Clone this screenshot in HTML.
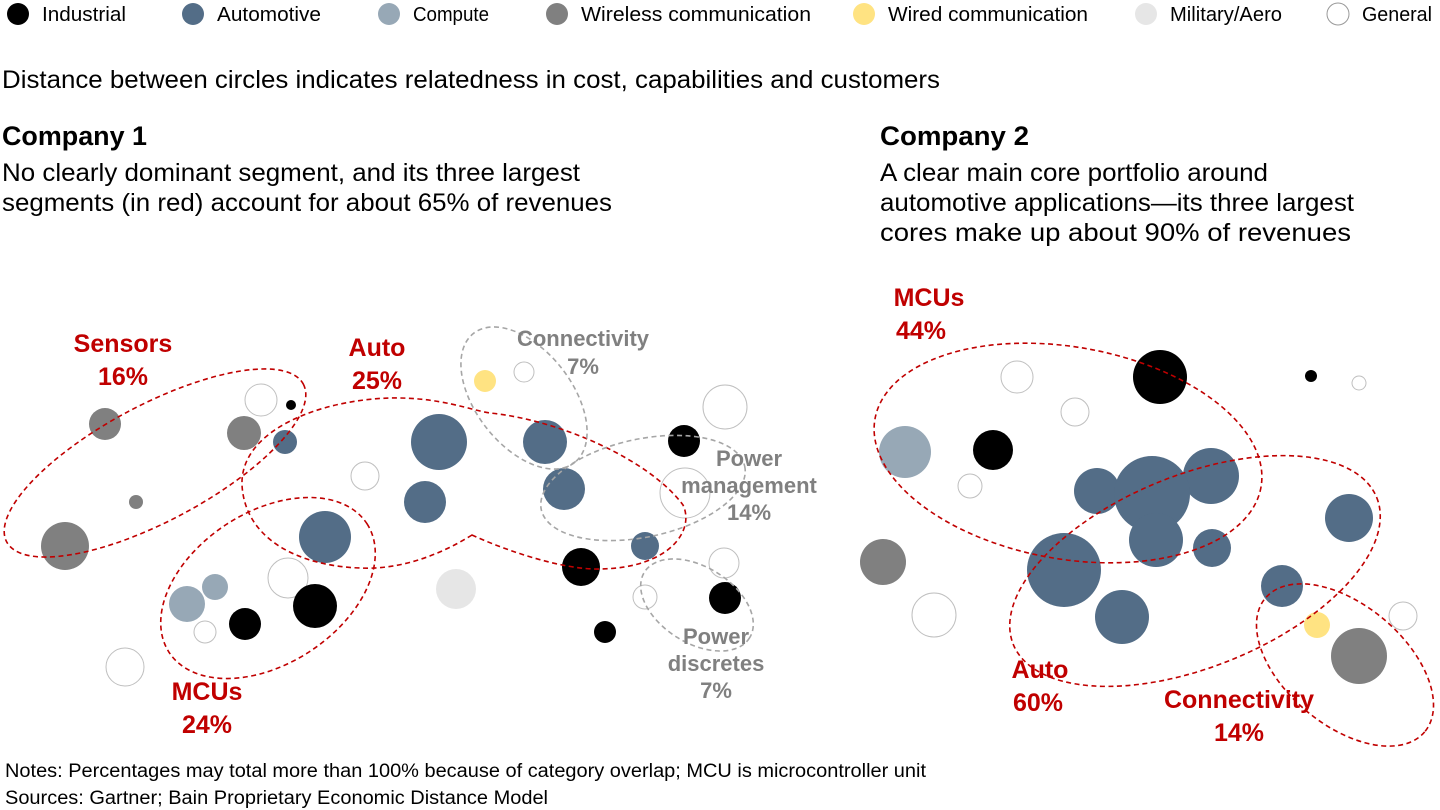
<!DOCTYPE html>
<html><head><meta charset="utf-8"><style>
body{margin:0;background:#fff;font-family:"Liberation Sans",Arial,sans-serif}
svg{display:block}
</style></head><body>
<svg id="chart" width="1440" height="810" viewBox="0 0 1440 810" xmlns="http://www.w3.org/2000/svg" font-family="Liberation Sans, Arial, sans-serif">
<g id="legend"></g>
<text x="2" y="88" font-size="25" textLength="938" lengthAdjust="spacingAndGlyphs" fill="#000">Distance between circles indicates relatedness in cost, capabilities and customers</text>
<text x="2" y="145" font-size="27" font-weight="bold" textLength="145" lengthAdjust="spacingAndGlyphs">Company 1</text>
<text x="2" y="181" font-size="25" textLength="578" lengthAdjust="spacingAndGlyphs">No clearly dominant segment, and its three largest</text>
<text x="2" y="211" font-size="25" textLength="610" lengthAdjust="spacingAndGlyphs">segments (in red) account for about 65% of revenues</text>
<text x="880" y="145" font-size="27" font-weight="bold" textLength="149" lengthAdjust="spacingAndGlyphs">Company 2</text>
<text x="880" y="181" font-size="25" textLength="388" lengthAdjust="spacingAndGlyphs">A clear main core portfolio around</text>
<text x="880" y="211" font-size="25" textLength="474" lengthAdjust="spacingAndGlyphs">automotive applications—its three largest</text>
<text x="880" y="241" font-size="25" textLength="471" lengthAdjust="spacingAndGlyphs">cores make up about 90% of revenues</text>
<g id="circles"></g>
<g fill="none" stroke-width="1.6" stroke-dasharray="5,3.5">
<ellipse cx="155" cy="463" rx="168" ry="58" transform="rotate(-28 155 463)" stroke="#c00000"/>
<ellipse cx="268" cy="588" rx="118" ry="76" transform="rotate(-33 268 588)" stroke="#c00000"/>
<path d="M472,535 C440,555 400,570 360,568 C300,566 245,540 242,485 C240,430 320,400 390,398 C440,397 470,410 490,413 C560,420 650,460 683,505 C695,530 670,568 600,569 C560,570 500,548 472,535 Z" stroke="#c00000"/>
<ellipse cx="524" cy="398" rx="82" ry="48" transform="rotate(52 524 398)" stroke="#a6a6a6"/>
<ellipse cx="643" cy="488" rx="104" ry="49" transform="rotate(-12 643 488)" stroke="#a6a6a6"/>
<ellipse cx="697" cy="605" rx="62" ry="38" transform="rotate(32 697 605)" stroke="#a6a6a6"/>
<ellipse cx="1068" cy="453" rx="196" ry="106" transform="rotate(10 1068 453)" stroke="#c00000"/>
<ellipse cx="1195" cy="571" rx="196" ry="96" transform="rotate(-22 1195 571)" stroke="#c00000"/>
<ellipse cx="1345" cy="665" rx="104" ry="60" transform="rotate(40 1345 665)" stroke="#c00000"/>
</g>
<g font-weight="bold" font-size="25" text-anchor="middle" fill="#c00000">
<text x="123" y="352">Sensors</text>
<text x="123" y="385">16%</text>
<text x="377" y="356">Auto</text>
<text x="377" y="389">25%</text>
<text x="207" y="700">MCUs</text>
<text x="207" y="733">24%</text>
<text x="929" y="306">MCUs</text>
<text x="921" y="339">44%</text>
<text x="1040" y="678">Auto</text>
<text x="1038" y="711">60%</text>
<text x="1239" y="708">Connectivity</text>
<text x="1239" y="741">14%</text>
</g>
<g font-weight="bold" font-size="22" text-anchor="middle" fill="#808080">
<text x="583" y="346">Connectivity</text>
<text x="583" y="374">7%</text>
<text x="749" y="466">Power</text>
<text x="749" y="493">management</text>
<text x="749" y="520">14%</text>
<text x="716" y="644">Power</text>
<text x="716" y="671">discretes</text>
<text x="716" y="698">7%</text>
</g>
<text x="5" y="777" font-size="19" textLength="921" lengthAdjust="spacingAndGlyphs">Notes: Percentages may total more than 100% because of category overlap; MCU is microcontroller unit</text>
<text x="5" y="804" font-size="19" textLength="543" lengthAdjust="spacingAndGlyphs">Sources: Gartner; Bain Proprietary Economic Distance Model</text>
</svg>
<script>
const legendLabels=["Industrial","Automotive","Compute","Wireless communication","Wired communication","Military/Aero","General"];
const legendX=[18,193,389,557,864,1146,1338];
const catColors={I:"#000000",A:"#536d87",C:"#97a8b6",W:"#808080",D:"#ffe382",M:"#e6e6e6",G:"#ffffff"};
const legendKeys=["I","A","C","W","D","M","G"];
// bubble data: category, x-position value, y-position value, radius value
const bubbleCats=["W","W","W","W","G","I","A","G","A","A","A","G","C","C","G","I","I","G","M","D","G","A","A","G","I","G","I","A","G","G","I","I",
"I","G","G","C","I","G","I","G","A","A","A","A","A","A","A","A","W","G","A","D","W","G"];
const bubbleX=[105,244,136,65,261,291,285,365,439,425,325,288,187,215,205,245,315,125,456,485,524,545,564,725,684,685,581,645,724,645,725,605,
1160,1017,1075,905,993,970,1311,1359,1097,1211,1152,1156,1212,1349,1064,1122,883,934,1282,1317,1359,1403];
const bubbleY=[424,433,502,546,400,405,442,476,442,502,537,578,604,587,632,624,606,667,589,381,372,442,489,407,441,493,567,546,563,597,598,632,
377,377,412,452,450,486,376,383,491,476,494,540,548,518,570,617,562,615,586,625,656,616];
const bubbleR=[16,17,7,24,16,5,12,14,28,21,26,20,18,13,11,16,22,19,20,11,10,22,21,22,16,25,19,14,15,12,16,11,
27,16,14,26,20,12,6,7,23,28,38,27,19,24,37,27,23,22,21,13,28,14];
const legendWidths=[84,104,76,230,200,112,70];
const NS="http://www.w3.org/2000/svg";
const lg=document.getElementById("legend");
legendLabels.forEach((lab,i)=>{
  const c=document.createElementNS(NS,"circle");
  c.setAttribute("cx",legendX[i]);c.setAttribute("cy",14);c.setAttribute("r",11);
  c.setAttribute("fill",catColors[legendKeys[i]]);
  if(legendKeys[i]==="G"){c.setAttribute("stroke","#999");c.setAttribute("stroke-width","1");}
  
  
  lg.appendChild(c);
  const t=document.createElementNS(NS,"text");
  t.setAttribute("x",legendX[i]+24);t.setAttribute("y",21);t.setAttribute("font-size","20");
  t.setAttribute("textLength",legendWidths[i]);t.setAttribute("lengthAdjust","spacingAndGlyphs");
  t.textContent=lab;
  
  
  lg.appendChild(t);
});
const g=document.getElementById("circles");
bubbleCats.forEach((cat,i)=>{
  const c=document.createElementNS(NS,"circle");
  c.setAttribute("cx",bubbleX[i]);c.setAttribute("cy",bubbleY[i]);c.setAttribute("r",bubbleR[i]);
  c.setAttribute("fill",catColors[cat]);
  if(cat==="G"){c.setAttribute("stroke","#bfbfbf");c.setAttribute("stroke-width","1");}
  
  
  g.appendChild(c);
});
</script>
</body></html>
